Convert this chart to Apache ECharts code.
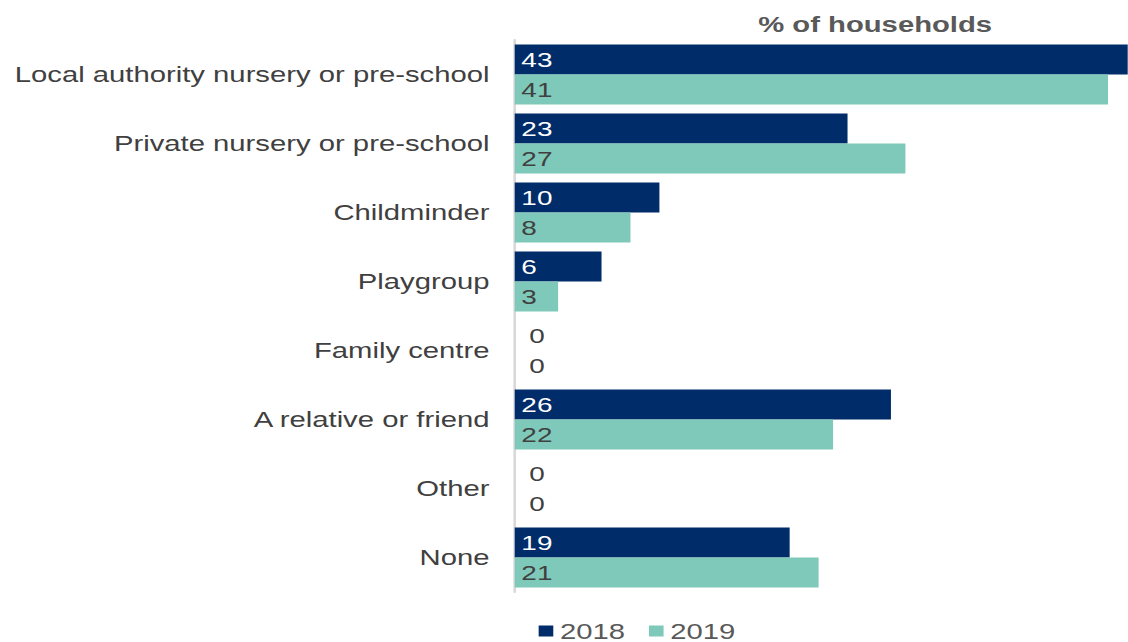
<!DOCTYPE html>
<html>
<head>
<meta charset="utf-8">
<script src="https://cdn.jsdelivr.net/npm/echarts@6/dist/echarts.min.js"></script>
<style>
  html, body { margin: 0; padding: 0; background: #fff; overflow: hidden; }
  /* the source picture is stretched sideways, so draw narrower and widen it */
  #main { width: 848px; height: 642px; transform: scaleX(1.33); transform-origin: 0 0; }
</style>
</head>
<body>
<div id="main"></div>
<script>
var categories = [
    'Local authority nursery or pre-school',
    'Private nursery or pre-school',
    'Childminder',
    'Playgroup',
    'Family centre',
    'A relative or friend',
    'Other',
    'None'
];
var values2018 = [43, 23, 10, 6, 0, 26, 0, 19];
var values2019 = [41, 27, 8, 3, 0, 22, 0, 21];

var chart = echarts.init(document.getElementById('main'), null, { renderer: 'svg' });

var labelFont = 'Liberation Sans, Arial, sans-serif';

// zero values sit on white, so push the label off the axis and make it grey
function withZeroLabels(values) {
    return values.map(function (v) {
        if (v === 0) {
            return { value: v, label: { color: '#404040', distance: 11 } };
        }
        return v;
    });
}

var option = {
    animation: false,
    title: {
        text: '% of households',
        left: 653,
        top: 8,
        textAlign: 'center',
        textStyle: {
            fontFamily: labelFont,
            fontSize: 22,
            fontWeight: 'bold',
            color: '#595959'
        }
    },
    legend: {
        data: ['2018', '2019'],
        left: 400,
        top: 615,
        icon: 'rect',
        itemWidth: 11,
        itemHeight: 11,
        itemGap: 18,
        textStyle: {
            fontFamily: labelFont,
            fontSize: 22,
            color: '#595959'
        }
    },
    grid: {
        left: 387,
        right: 0,
        top: 40,
        bottom: 50
    },
    xAxis: {
        type: 'value',
        min: 0,
        max: 42.37,
        show: false
    },
    yAxis: {
        type: 'category',
        data: categories,
        inverse: true,
        axisLine: { show: true, lineStyle: { color: '#d9d9d9', width: 2 } },
        axisTick: { show: false },
        axisLabel: {
            margin: 19,
            fontFamily: labelFont,
            fontSize: 22,
            color: '#404040'
        }
    },
    series: [
        {
            name: '2018',
            type: 'bar',
            data: withZeroLabels(values2018),
            barWidth: 30,
            barGap: '0%',
            clip: true,
            itemStyle: { color: '#002D6A' },
            label: {
                show: true,
                position: 'insideLeft',
                distance: 5,
                fontFamily: labelFont,
                fontSize: 21,
                color: '#fff'
            }
        },
        {
            name: '2019',
            type: 'bar',
            data: withZeroLabels(values2019),
            barWidth: 30,
            clip: true,
            itemStyle: { color: '#7FC9BA' },
            label: {
                show: true,
                position: 'insideLeft',
                distance: 5,
                fontFamily: labelFont,
                fontSize: 21,
                color: '#404040'
            }
        }
    ]
};

chart.setOption(option);
</script>
</body>
</html>
